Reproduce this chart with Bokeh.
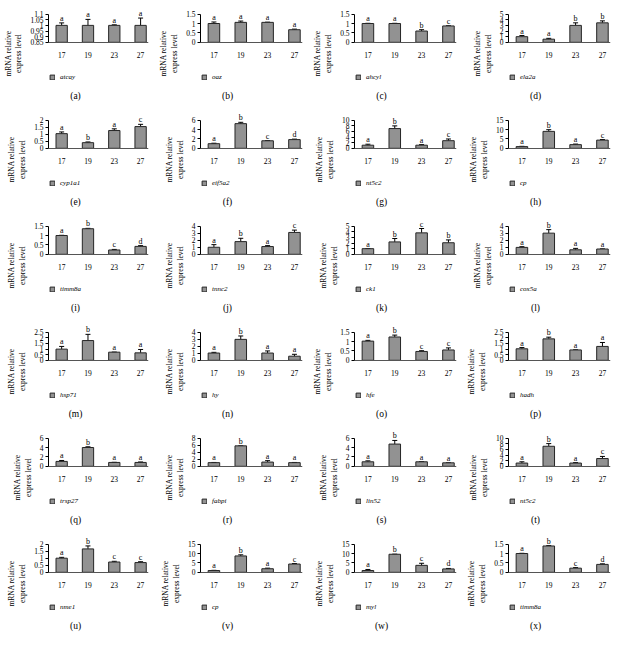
from bokeh.plotting import figure
from bokeh.models import (ColumnDataSource, Range1d, FixedTicker, CustomJSTickFormatter,
                          Whisker, TeeHead, LabelSet, Label, Legend, LegendItem, LinearAxis)
from bokeh.layouts import gridplot
from bokeh.core.properties import value
from bokeh.embed import file_html
from bokeh.resources import INLINE

temperatures = ["17", "19", "23", "27"]
panel_ids = list("abcdefghijklmnopqrstuvwx")
genes = ["atcay", "oaz", "ahcyl", "ela2a", "cyp1a1", "eif5a2", "nt5c2", "cp",
         "timm8a", "tnnc2", "ck1", "cox5a", "hsp71", "hy", "hfe", "hadh",
         "trsp27", "fabpi", "lin52", "nt5c2", "nme1", "cp", "myl", "timm8a"]
y_ticks = [
    [0.85, 0.9, 0.95, 1, 1.05, 1.1], [0, 0.5, 1, 1.5], [0, 0.5, 1, 1.5], [0, 1, 2, 3, 4, 5],
    [0, 0.5, 1, 1.5, 2], [0, 2, 4, 6], [0, 2, 4, 6, 8, 10], [0, 5, 10, 15],
    [0, 0.5, 1, 1.5], [0, 1, 2, 3, 4], [0, 1, 2, 3, 4, 5], [0, 1, 2, 3, 4],
    [0, 0.5, 1, 1.5, 2, 2.5], [0, 1, 2, 3, 4], [0, 0.5, 1, 1.5], [0, 0.5, 1, 1.5, 2, 2.5],
    [0, 2, 4, 6], [0, 2, 4, 6, 8], [0, 2, 4, 6], [0, 2, 4, 6, 8, 10],
    [0, 0.5, 1, 1.5, 2], [0, 5, 10, 15], [0, 5, 10, 15], [0, 0.5, 1, 1.5],
]
means = [
    [1.0, 1.0, 1.0, 1.0], [1.0, 1.06, 1.06, 0.67], [1.0, 1.0, 0.6, 0.87], [1.0, 0.55, 3.0, 3.45],
    [1.04, 0.4, 1.26, 1.54], [0.98, 5.25, 1.6, 1.85], [1.1, 7.0, 1.1, 2.7], [0.9, 9.0, 1.95, 4.35],
    [1.0, 1.36, 0.23, 0.42], [1.0, 1.8, 1.1, 3.1], [1.0, 2.2, 3.8, 2.05], [0.98, 3.0, 0.64, 0.75],
    [0.99, 1.75, 0.72, 0.66], [1.03, 2.97, 1.03, 0.58], [1.02, 1.24, 0.47, 0.55], [1.02, 1.9, 0.92, 1.23],
    [1.04, 4.0, 0.82, 0.82], [1.04, 5.8, 1.2, 1.04], [0.96, 4.73, 0.96, 0.74], [1.15, 7.1, 1.15, 2.75],
    [1.0, 1.66, 0.73, 0.69], [0.95, 8.7, 1.9, 4.4], [0.95, 9.6, 3.7, 1.8], [1.0, 1.4, 0.22, 0.42],
]
errors = [
    [0.022, 0.053, 0.005, 0.065], [0.08, 0.07, 0.01, 0.03], [0.01, 0.01, 0.07, 0.01], [0.2, 0.15, 0.45, 0.35],
    [0.12, 0.05, 0.12, 0.16], [0.1, 0.28, 0.04, 0.1], [0.35, 0.95, 0.2, 0.6], [0.15, 0.9, 0.3, 0.3],
    [0.01, 0.02, 0.03, 0.04], [0.37, 0.47, 0.13, 0.33], [0.02, 0.6, 0.77, 0.5], [0.1, 0.5, 0.2, 0.02],
    [0.24, 0.55, 0.01, 0.3], [0.1, 0.48, 0.3, 0.27], [0.04, 0.1, 0.04, 0.11], [0.11, 0.15, 0.01, 0.35],
    [0.2, 0.15, 0.03, 0.1], [0.05, 0.03, 0.4, 0.05], [0.2, 0.77, 0.04, 0.02], [0.45, 0.95, 0.15, 0.75],
    [0.06, 0.21, 0.05, 0.06], [0.1, 0.6, 0.3, 0.25], [0.55, 0.05, 1.1, 0.25], [0.01, 0.02, 0.03, 0.03],
]
letters = ["aaaa", "aaaa", "aabc", "aabb", "abac", "abcd", "abac", "abac",
           "abcd", "abac", "abcb", "abaa", "abaa", "abaa", "abcc", "abaa",
           "abaa", "abaa", "abaa", "abac", "abcc", "abac", "abcd", "abcd"]

FONT = "Liberation Serif"
W, H = 154, 106
LEFT = 46
TOP_PX, AXIS_PX = 13.6, 41.8      # pixel rows (from top of cell) of top tick and x axis
BAR_FILL = "#929292"
BAR_LINE = "#262626"

tick_fmt_code = "return String(Number(tick.toFixed(4)))"


def make_panel(k):
    ticks = y_ticks[k]
    y0, y1 = ticks[0], ticks[-1]
    u = (y1 - y0) / (AXIS_PX - TOP_PX)
    xs = list(range(len(temperatures)))
    src = ColumnDataSource(dict(
        x=xs,
        top=means[k],
        bottom=[y0] * len(xs),
        upper=[m + e for m, e in zip(means[k], errors[k])],
        letter=list(letters[k]),
    ))
    p = figure(width=W, height=H, output_backend="svg", toolbar_location=None,
               x_range=Range1d(-0.5, 3.3),
               y_range=Range1d(y0 - (H - AXIS_PX) * u, y1 + TOP_PX * u),
               x_axis_location=None,
               min_border_left=LEFT, min_border_right=6, min_border_top=0,
               min_border_bottom=0)
    p.outline_line_color = None
    p.xgrid.visible = False
    p.ygrid.visible = False
    p.background_fill_color = None
    p.border_fill_color = None

    bars = p.vbar(x="x", top="top", bottom="bottom", width=0.43, source=src,
                  fill_color=BAR_FILL, line_color=BAR_LINE, line_width=1)

    wh = Whisker(source=src, base="x", upper="upper", lower="top", dimension="height",
                 line_color="black", line_width=1,
                 upper_head=TeeHead(size=5, line_color="black", line_width=1),
                 lower_head=None)
    p.add_layout(wh)

    lab = LabelSet(source=src, x="x", y="upper", text="letter", y_offset=0,
                   text_align="center", text_baseline="bottom",
                   text_font=value(FONT), text_font_size="8px", text_color="black")
    p.add_layout(lab)

    # x axis drawn at the bar baseline
    xa = LinearAxis(fixed_location=y0)
    xa.ticker = FixedTicker(ticks=xs)
    xa.major_label_overrides = {i: t for i, t in zip(xs, temperatures)}
    xa.major_tick_line_color = None
    xa.minor_tick_line_color = None
    xa.axis_line_color = "#555555"
    xa.axis_line_width = 1.2
    xa.major_label_standoff = 4
    xa.major_label_text_font = FONT
    xa.major_label_text_font_size = "7.5px"
    xa.major_label_text_color = "black"
    p.add_layout(xa, "below")

    # y axis
    ya = p.yaxis[0]
    ya.bounds = (y0, y1)
    ya.ticker = FixedTicker(ticks=ticks)
    ya.formatter = CustomJSTickFormatter(code=tick_fmt_code)
    ya.minor_tick_line_color = None
    ya.major_tick_in = 0
    ya.major_tick_out = 3
    ya.axis_line_color = "black"
    ya.major_tick_line_color = "black"
    ya.major_label_standoff = 2
    ya.major_label_text_font = FONT
    ya.major_label_text_font_size = "7.5px"
    ya.major_label_text_color = "black"
    ya.axis_label = "mRNA relative\nexpress level"
    ya.axis_label_text_font = FONT
    ya.axis_label_text_font_size = "7.5px"
    ya.axis_label_text_font_style = "normal"
    ya.axis_label_text_color = "black"
    ya.axis_label_standoff = 4

    leg = Legend(items=[LegendItem(label=genes[k], renderers=[bars])],
                 location=(1, 25), orientation="horizontal",
                 glyph_width=6, glyph_height=6, label_standoff=5,
                 label_height=8, label_width=20, padding=0, spacing=0, margin=0,
                 label_text_font=FONT, label_text_font_style="italic",
                 label_text_font_size="7px", label_text_color="black",
                 border_line_color=None, background_fill_alpha=0)
    p.add_layout(leg, "center")

    cap = Label(x=27, y=10.7, x_units="screen", y_units="screen",
                text="(%s)" % panel_ids[k], text_align="center", text_baseline="middle",
                text_font=FONT, text_font_size="9.5px", text_color="black")
    p.add_layout(cap)
    return p


panels = [make_panel(k) for k in range(len(panel_ids))]
grid = gridplot(panels, ncols=4, toolbar_location=None)

open("out.html", "w").write(file_html(grid, INLINE))
